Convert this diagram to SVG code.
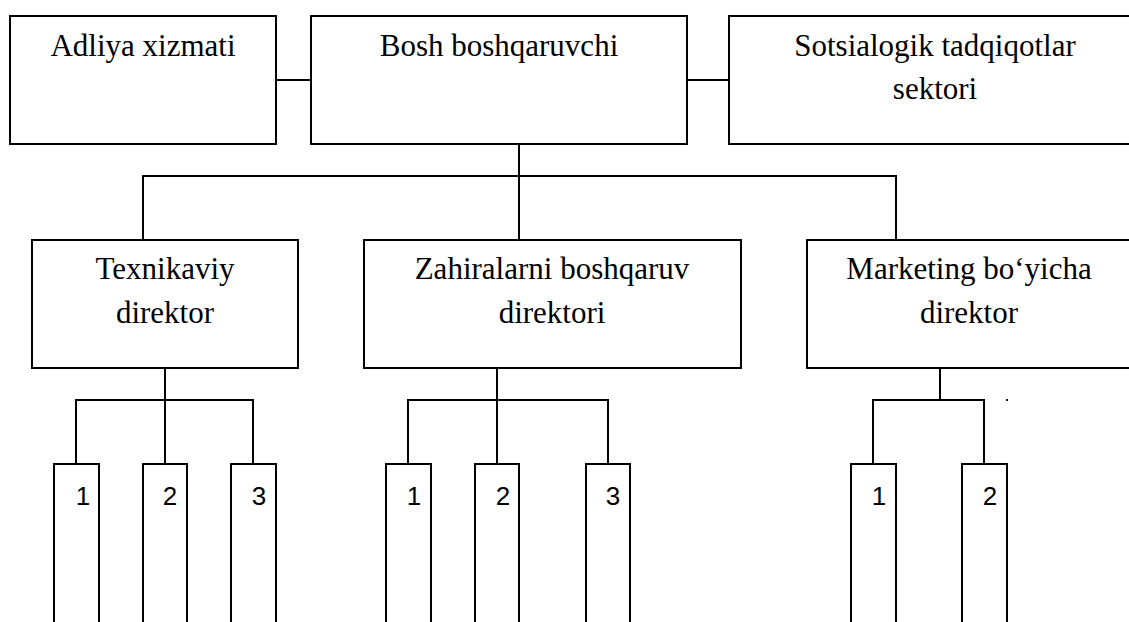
<svg xmlns="http://www.w3.org/2000/svg" width="1129" height="622" viewBox="0 0 1129 622">
  <style>
    .box { fill: #fff; stroke: #000; stroke-width: 2; }
    .line { fill: none; stroke: #000; stroke-width: 2; }
    .lbl { font-size: 31px; fill: #000; text-anchor: middle; }
    .num { font-size: 26px; fill: #000; text-anchor: middle; }
  </style>
  <rect width="1129" height="622" fill="#fff"/>

  <!-- connectors -->
  <g id="connectors" class="line">
    <!-- top row links -->
    <line x1="276" y1="80" x2="311" y2="80"/>
    <line x1="687" y1="80" x2="729" y2="80"/>
    <!-- head to directors -->
    <line x1="519" y1="144" x2="519" y2="240"/>
    <polyline points="143,240 143,176 896,176 896,240"/>
    <!-- technical director branch -->
    <line x1="165" y1="368" x2="165" y2="464"/>
    <polyline points="76,464 76,400 253,400 253,464"/>
    <!-- resources director branch -->
    <line x1="497" y1="368" x2="497" y2="464"/>
    <polyline points="408,464 408,400 608,400 608,464"/>
    <!-- marketing director branch -->
    <line x1="940" y1="368" x2="940" y2="400"/>
    <polyline points="873,464 873,400 984,400 984,464"/>
  </g>

  <g font-family="'Liberation Serif', 'Times New Roman', 'DejaVu Serif', serif">
    <!-- top level -->
    <g id="adliya">
      <rect class="box" x="10" y="16" width="266" height="128"/>
      <text class="lbl" x="143" y="56">Adliya xizmati</text>
    </g>
    <g id="bosh">
      <rect class="box" x="311" y="16" width="376" height="128"/>
      <text class="lbl" x="499" y="56">Bosh boshqaruvchi</text>
    </g>
    <g id="sotsial">
      <rect class="box" x="729" y="16" width="412" height="128"/>
      <text class="lbl" x="935" y="56">Sotsialogik tadqiqotlar</text>
      <text class="lbl" x="935" y="99">sektori</text>
    </g>

    <!-- directors -->
    <g id="texnik">
      <rect class="box" x="32" y="240" width="266" height="128"/>
      <text class="lbl" x="165" y="279">Texnikaviy</text>
      <text class="lbl" x="165" y="323">direktor</text>
    </g>
    <g id="zahira">
      <rect class="box" x="364" y="240" width="377" height="128"/>
      <text class="lbl" x="552" y="279">Zahiralarni boshqaruv</text>
      <text class="lbl" x="552" y="323">direktori</text>
    </g>
    <g id="marketing">
      <rect class="box" x="807" y="240" width="325" height="128"/>
      <text class="lbl" x="969" y="279">Marketing bo‘yicha</text>
      <text class="lbl" x="969" y="323">direktor</text>
    </g>
  </g>

  <!-- sub-units -->
  <g font-family="'Liberation Sans', Arial, sans-serif">
    <g id="t1"><rect class="box" x="54" y="464" width="45" height="180"/><text class="num" x="83" y="505">1</text></g>
    <g id="t2"><rect class="box" x="143" y="464" width="44" height="180"/><text class="num" x="170" y="505">2</text></g>
    <g id="t3"><rect class="box" x="231" y="464" width="45" height="180"/><text class="num" x="259" y="505">3</text></g>

    <g id="z1"><rect class="box" x="386" y="464" width="45" height="180"/><text class="num" x="414" y="505">1</text></g>
    <g id="z2"><rect class="box" x="475" y="464" width="44" height="180"/><text class="num" x="503" y="505">2</text></g>
    <g id="z3"><rect class="box" x="586" y="464" width="44" height="180"/><text class="num" x="613" y="505">3</text></g>

    <g id="m1"><rect class="box" x="851" y="464" width="45" height="180"/><text class="num" x="879" y="505">1</text></g>
    <g id="m2"><rect class="box" x="962" y="464" width="45" height="180"/><text class="num" x="990" y="505">2</text></g>
  </g>

  <!-- stray full stop -->
  <rect x="1006" y="399" width="2" height="2" fill="#000"/>
</svg>
